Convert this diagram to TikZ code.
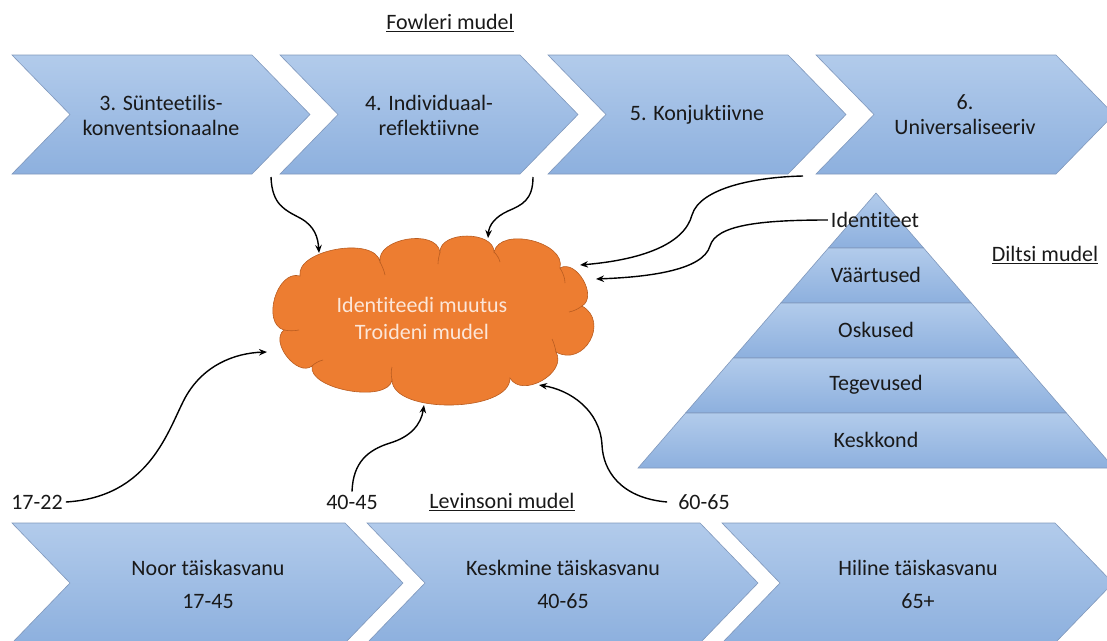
\documentclass[tikz,border=0pt]{standalone}
\usepackage{fontspec}
\setmainfont{Carlito}[Ligatures={NoCommon}]
\usetikzlibrary{arrows.meta,calc}
\definecolor{chevtop}{RGB}{178,203,235}
\definecolor{chevbot}{RGB}{141,176,222}
\definecolor{chevedge}{RGB}{128,152,188}
\definecolor{cloudfill}{RGB}{237,125,49}
\definecolor{cloudedge}{RGB}{185,92,32}
\definecolor{cloudtext}{RGB}{252,230,216}
\definecolor{txt}{RGB}{25,25,25}
\newcommand\mychev[5]{\path[chevfill] (#1,#2) -- ++(#3,0) -- ++(#4,#5/2) -- ++(-#4,#5/2) -- ++(-#3,0) -- ++(#4,-#5/2) -- cycle;}
\begin{document}
\begin{tikzpicture}[x=1pt,y=-1pt,
  chevfill/.style={top color=chevtop,bottom color=chevbot,draw=chevedge,line width=0.6pt},
  lbl/.style={font=\fontsize{22}{25}\selectfont,text=txt,inner sep=3pt,align=center},
  cloudline/.style={draw=cloudedge,line width=0.6pt},
  conn/.style={line width=1.4pt,-{Stealth[length=8pt,width=6.5pt]}}]
\useasboundingbox (0,0) rectangle (1107,640);
\clip (0,0) rectangle (1107,640);
% top chevrons (Fowler)
\mychev{12}{55}{240}{58}{119}
\mychev{280}{55}{240}{58}{119}
\mychev{548}{55}{240}{58}{119}
\mychev{816}{55}{240}{58}{119}
% bottom chevrons (Levinson)
\mychev{12}{523}{333}{58}{120}
\mychev{367}{523}{333}{58}{120}
\mychev{722}{523}{333}{58}{120}
% pyramid (Dilts)
\path[chevfill] (876,193) -- (923.6,248) -- (828.4,248) -- cycle;
\path[chevfill] (828.4,248) -- (923.6,248) -- (971.2,303) -- (780.8,303) -- cycle;
\path[chevfill] (780.8,303) -- (971.2,303) -- (1018.8,358) -- (733.2,358) -- cycle;
\path[chevfill] (733.2,358) -- (1018.8,358) -- (1066.4,413) -- (685.6,413) -- cycle;
\path[chevfill] (685.6,413) -- (1066.4,413) -- (1114,468) -- (638,468) -- cycle;
% cloud
\path[fill=cloudfill,cloudline] (300,276)
  .. controls (295.4,249.7) and (375.4,235.7) .. (380,262)
  .. controls (376.1,238.3) and (436.1,228.3) .. (440,252)
  .. controls (440,230.7) and (494,230.7) .. (494,252)
  .. controls (500.3,226.1) and (566.3,242.1) .. (560,268)
  .. controls (576.2,258.6) and (598.2,296.6) .. (582,306)
  .. controls (609.9,321.7) and (583.9,367.7) .. (556,352)
  .. controls (567.8,372.9) and (521.8,398.9) .. (510,378)
  .. controls (510.6,412.7) and (392.6,414.7) .. (392,380)
  .. controls (387.9,403.6) and (307.9,389.6) .. (312,366)
  .. controls (297.2,377.5) and (269.2,341.5) .. (284,330)
  .. controls (261,323.2) and (277,269.2) .. (300,276) -- cycle;
\draw[cloudline] (380,262) .. controls (382,266) and (384,270) .. (385,275);
\draw[cloudline] (440,252) .. controls (439,256) and (438,260) .. (438,264);
\draw[cloudline] (494,252) .. controls (497,255) and (499,258) .. (500,262);
\draw[cloudline] (560,268) .. controls (563,273) and (565,278) .. (565,283);
\draw[cloudline] (582,306) .. controls (578,309) and (574,311) .. (569,312);
\draw[cloudline] (556,352) .. controls (555,347) and (554,343) .. (552,339);
\draw[cloudline] (392,380) .. controls (391,375) and (391,371) .. (392,367);
\draw[cloudline] (312,366) .. controls (315,363) and (319,361) .. (323,360);
\draw[cloudline] (284,330) .. controls (289,331) and (294,331) .. (299,330);
\coordinate (cl) at (435,322);
\node[lbl, text=cloudtext, font=\fontsize{22}{27}\selectfont] (ct) at (422,318) {Identiteedi muutus\\Troideni mudel};
% texts
\node[lbl] (fow) at (450,23) {\underline{Fowleri mudel}};
\node[lbl] (t3) at (161,115) {3. Sünteetilis-\\konventsionaalne};
\node[lbl] (t4) at (429,115) {4. Individuaal-\\reflektiivne};
\node[lbl] (t5) at (697,115) {5. Konjuktiivne};
\node[lbl] (t6) at (965,115) {6.\\Universaliseeriv};
\node[lbl, font=\fontsize{22}{33}\selectfont] (b1) at (208,584) {Noor täiskasvanu\\17-45};
\node[lbl, font=\fontsize{22}{33}\selectfont] (b2) at (563,584) {Keskmine täiskasvanu\\40-65};
\node[lbl, font=\fontsize{22}{33}\selectfont] (b3) at (918,584) {Hiline täiskasvanu\\65+};
\node[lbl] (l1) at (37,502) {17-22};
\node[lbl] (l2) at (352,502) {40-45};
\node[lbl] (lev) at (502,502) {\underline{Levinsoni mudel}};
\node[lbl] (l3) at (704,502) {60-65};
\node[lbl] (id) at (875,220) {Identiteet};
\node[lbl] (va) at (876,275) {Väärtused};
\node[lbl] (os) at (876,330) {Oskused};
\node[lbl] (te) at (876,385) {Tegevused};
\node[lbl] (ke) at (876,440) {Keskkond};
\node[lbl] (dil) at (1045,255) {\underline{Diltsi mudel}};
% connectors
\coordinate (a3) at (271,177);
\coordinate (a4) at (533,177);
\coordinate (a6) at (803,176);
\draw[conn] (a3) .. controls (272,205) and (285,210) .. (300,218) .. controls (315,226) and (318,238) .. ($(cl)+(-116,-69)$);
\draw[conn] (a4) .. controls (533,200) and (522,205) .. (508,211) .. controls (495,217) and (489,225) .. ($(cl)+(53,-84)$);
\draw[conn] (a6) .. controls (755,177) and (700,188) .. (692,215) .. controls (684,245) and (640,260) .. ($(cl)+(145,-57)$);
\draw[conn] (id.west) .. controls (760,220) and (716,225) .. (710,246) .. controls (703,270) and (650,277) .. ($(cl)+(161,-43)$);
\draw[conn] (l1.east) .. controls (150,497) and (168,430) .. (185,398) .. controls (203,365) and (235,353) .. ($(cl)+(-168,30)$);
\draw[conn] (l2.north) .. controls (353,462) and (368,450) .. (390,443) .. controls (410,437) and (421,425) .. ($(cl)+(-11,83)$);
\draw[conn] ([xshift=-8pt]l3.west) .. controls (620,498) and (603,470) .. (602,445) .. controls (600,410) and (570,390) .. ($(cl)+(104,63)$);
\end{tikzpicture}
\end{document}
